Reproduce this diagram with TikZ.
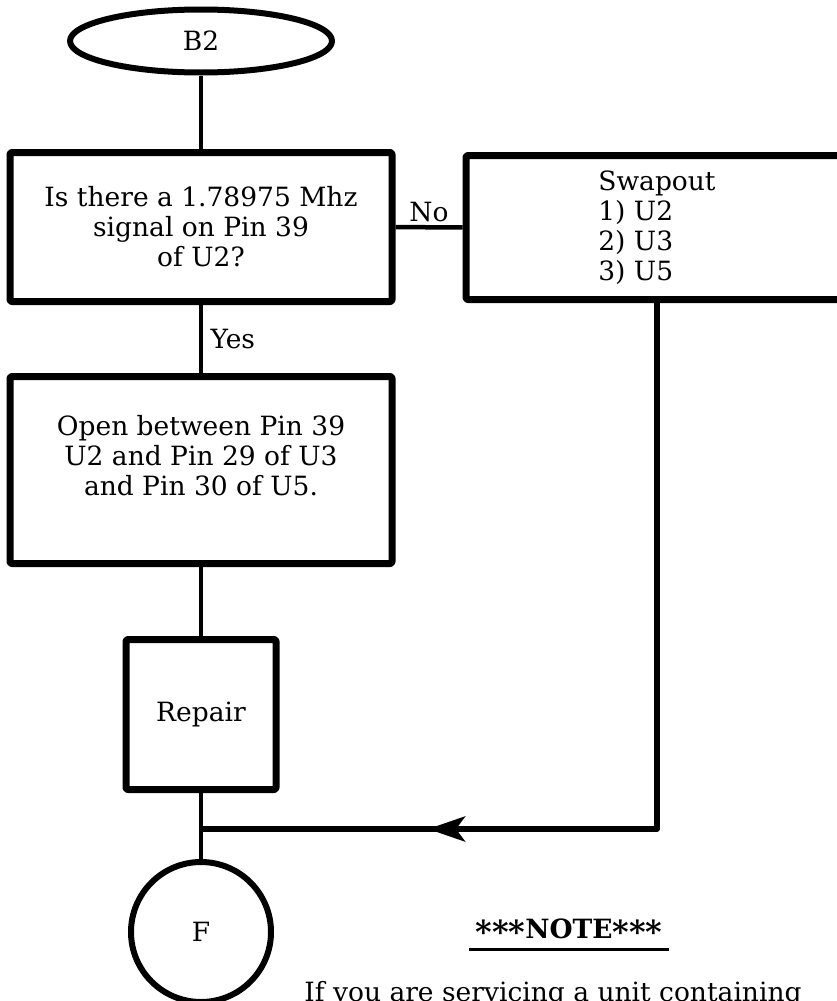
\documentclass[tikz,border=0pt]{standalone}
\usepackage{fontspec}
\setmainfont{DejaVu Serif}
\usetikzlibrary{shapes.geometric,arrows.meta}
\newcommand{\stars}{\raisebox{-5pt}{\scalebox{1.2}{***}}}
\begin{document}
\begin{tikzpicture}[x=1pt,y=-1pt,line join=round,thick]
	\tikzset{every node/.style={font=\fontsize{26.5}{30}\selectfont},
		box/.style={draw,line width=7pt,rounded corners=2pt,inner sep=0pt,align=center},
		conn/.style={line width=4.5pt},
		back/.style={line width=5.5pt}}
	\useasboundingbox (0,0) rectangle (836,1001);
	\node[draw,ellipse,line width=6pt,minimum width=262pt,minimum height=63pt,inner sep=0pt] (start) at (201,41) {B2};
	\node[box,minimum width=382pt,minimum height=149pt] (quest) at (201,227) {Is there a 1.78975 Mhz\\signal on Pin 39\\of U2?};
	\node[box,minimum width=382pt,minimum height=144pt,align=left] (swap) at (657,227.5) {Swapout\\1) U2\\2) U3\\3) U5};
	\node[box,minimum width=382pt,minimum height=187pt] (open) at (201,470) {Open between Pin 39\\U2 and Pin 29 of U3\\and Pin 30 of U5.\\~};
	\node[box,minimum width=150pt,minimum height=150pt] (repair) at (201,714.5) {Repair};
	\node[draw,circle,line width=6pt,minimum size=140pt,inner sep=0pt] (stop) at (201,932) {F};
	\coordinate (join) at (201,829);
	\coordinate (tip) at (428,829);
	\draw[conn] (start) -- (quest);
	\draw[conn] (quest) -- node[right=4pt] {Yes} (open);
	\draw[conn] (quest) -- node[above] {No} (swap);
	\draw[conn] (open) -- (repair);
	\draw[conn] (repair) -- (stop);
	\draw[back] (swap.south) |- (join);
	\draw[back,-{Stealth[length=37pt,width=25pt,inset=9pt]}] (swap.south |- join) -- (tip);
	% note at the bottom
	\node[inner sep=6pt] (note) at (569,931) {\bfseries\stars NOTE\stars};
	\draw[line width=3pt] (note.south west) -- (note.south east);
	\node[anchor=base] (hint) at (553,1001) {If you are servicing a unit containing};
\end{tikzpicture}
\end{document}
